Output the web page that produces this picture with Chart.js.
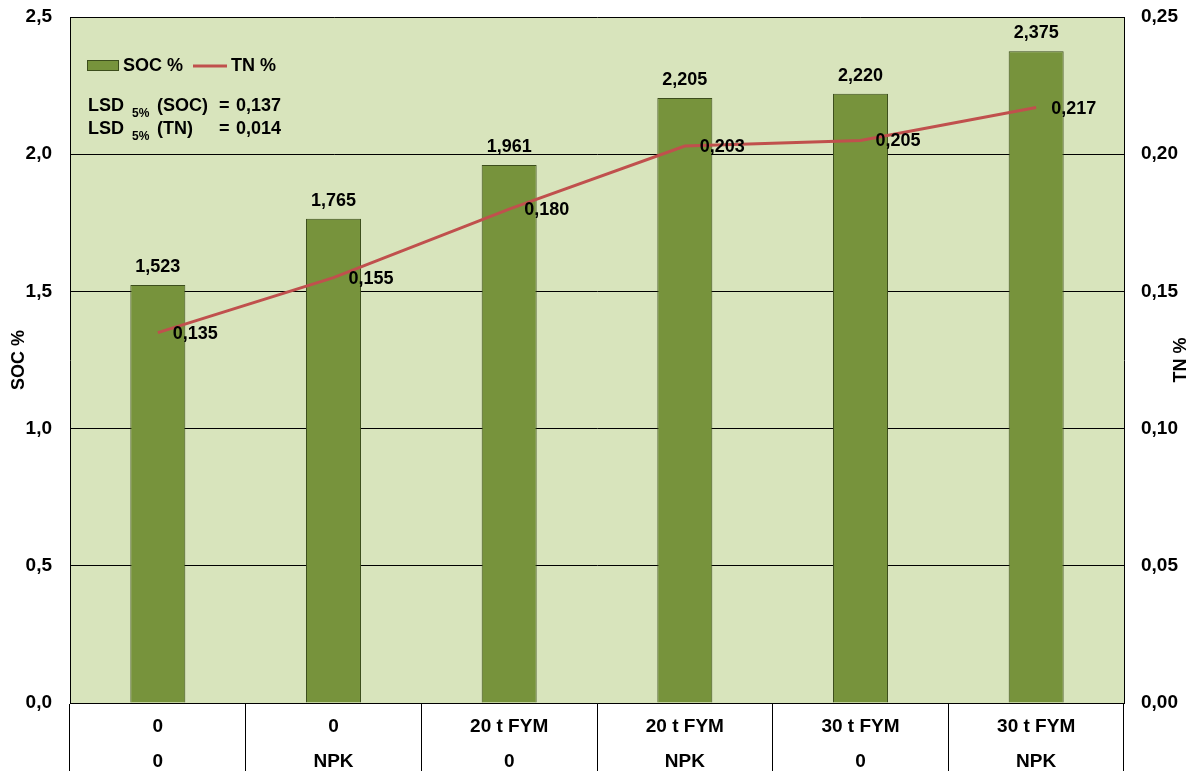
<!DOCTYPE html>
<html>
<head>
<meta charset="utf-8">
<script src="https://cdn.jsdelivr.net/npm/chart.js@4/dist/chart.umd.min.js"></script>
<style>
  body { margin: 0; background: #fff; }
</style>
</head>
<body>
<canvas id="socChart" width="1190" height="771"></canvas>
<script>
// data
var categories = [["0", "0"], ["0", "NPK"], ["20 t FYM", "0"], ["20 t FYM", "NPK"], ["30 t FYM", "0"], ["30 t FYM", "NPK"]];
var socValues = [1.523, 1.765, 1.961, 2.205, 2.220, 2.375];
var tnValues = [0.135, 0.155, 0.180, 0.203, 0.205, 0.217];
var socTicks = ["0,0", "0,5", "1,0", "1,5", "2,0", "2,5"];
var tnTicks = ["0,00", "0,05", "0,10", "0,15", "0,20", "0,25"];
var lsdNames = ["(SOC)", "(TN)"];
var lsdValues = ["0,137", "0,014"];

var FONT = "'Liberation Sans', Arial, sans-serif";
var comma = function (v, d) { return v.toFixed(d).replace('.', ','); };

// plot background + labels + legend
var extras = {
  id: 'extras',
  beforeDraw: function (chart) {
    var a = chart.chartArea, ctx = chart.ctx;
    ctx.save();
    ctx.fillStyle = '#d8e4bc';
    ctx.fillRect(a.left, a.top, a.right - a.left, a.bottom - a.top);
    ctx.restore();
  },
  afterDatasetsDraw: function (chart) {
    var ctx = chart.ctx;
    ctx.save();
    ctx.fillStyle = '#000';
    ctx.font = 'bold 18px ' + FONT;
    ctx.textBaseline = 'middle';
    ctx.textAlign = 'center';
    chart.getDatasetMeta(0).data.forEach(function (bar, i) {
      ctx.fillText(comma(socValues[i], 3), bar.x, bar.y - 18);
    });
    ctx.textAlign = 'left';
    chart.getDatasetMeta(1).data.forEach(function (pt, i) {
      ctx.fillText(comma(tnValues[i], 3), pt.x + 15, pt.y + 1);
    });
    ctx.restore();
  },
  afterDraw: function (chart) {
    var ctx = chart.ctx, a = chart.chartArea;
    var ds = chart.data.datasets;
    ctx.save();
    ctx.fillStyle = '#000';
    ctx.font = 'bold 18px ' + FONT;
    ctx.textBaseline = 'middle';
    ctx.textAlign = 'left';
    // legend
    ctx.fillStyle = ds[0].backgroundColor;
    ctx.strokeStyle = ds[0].borderColor;
    ctx.lineWidth = 1;
    ctx.fillRect(87.5, 60.5, 31, 10);
    ctx.strokeRect(87.5, 60.5, 31, 10);
    ctx.fillStyle = '#000';
    ctx.fillText(ds[0].label, 123, 66);
    ctx.strokeStyle = ds[1].borderColor;
    ctx.lineWidth = 3;
    ctx.beginPath();
    ctx.moveTo(193, 66);
    ctx.lineTo(227, 66);
    ctx.stroke();
    ctx.fillText(ds[1].label, 231, 66);
    // LSD notes
    ctx.textBaseline = 'alphabetic';
    [111, 134].forEach(function (y, i) {
      ctx.font = 'bold 18px ' + FONT;
      ctx.fillText('LSD', 88, y);
      ctx.fillText(lsdNames[i], 157, y);
      ctx.fillText('=', 219, y);
      ctx.fillText(lsdValues[i], 236, y);
      ctx.font = 'bold 12px ' + FONT;
      ctx.fillText('5%', 132, y + 6);
    });
    // right axis title (reads bottom to top)
    ctx.font = 'bold 18px ' + FONT;
    ctx.textAlign = 'center';
    ctx.textBaseline = 'middle';
    ctx.translate(1181, (a.top + a.bottom) / 2);
    ctx.rotate(-Math.PI / 2);
    ctx.fillText('TN %', 0, 0);
    ctx.restore();
  }
};

var ctx = document.getElementById('socChart').getContext('2d');
var chart = new Chart(ctx, {
  type: 'bar',
  data: {
    labels: categories,
    datasets: [{
      type: 'bar',
      label: 'SOC %',
      data: socValues,
      yAxisID: 'y',
      backgroundColor: '#77933c',
      borderColor: '#3c4d1c',
      borderWidth: 1,
      barPercentage: 0.313,
      categoryPercentage: 1,
      order: 2
    }, {
      type: 'line',
      label: 'TN %',
      data: tnValues,
      yAxisID: 'y2',
      borderColor: '#c0504d',
      borderWidth: 3,
      pointRadius: 0,
      tension: 0,
      order: 1
    }]
  },
  options: {
    responsive: false,
    animation: false,
    layout: { padding: { top: 17, left: 0, right: 0, bottom: 0 } },
    plugins: { legend: { display: false }, tooltip: { enabled: false } },
    scales: {
      x: {
        grid: { offset: true, drawOnChartArea: false, drawTicks: true, tickLength: 68, color: '#000', lineWidth: 1 },
        border: { display: true, color: '#000' },
        ticks: {
          color: '#000', font: { family: FONT, size: 19, weight: 'bold', lineHeight: '35px' },
          padding: -61.5, maxRotation: 0, autoSkip: false
        },
        afterFit: function (s) { s.height = 68; s.paddingLeft = 0; s.paddingRight = 0; }
      },
      y: {
        position: 'left',
        min: 0, max: 2.5,
        ticks: {
          stepSize: 0.5, color: '#000', padding: 18,
          font: { family: FONT, size: 19, weight: 'bold' },
          callback: function (v, i) { return socTicks[i]; }
        },
        grid: { color: '#000', lineWidth: 1, drawTicks: false },
        border: { display: true, color: '#000' },
        title: {
          display: true, text: 'SOC %', color: '#000',
          font: { family: FONT, size: 18, weight: 'bold' },
          padding: { top: 8, bottom: 0 }
        },
        afterFit: function (s) { s.width = 70; s.paddingTop = 0; s.paddingBottom = 0; }
      },
      y2: {
        position: 'right',
        min: 0, max: 0.25,
        ticks: {
          stepSize: 0.05, color: '#000', padding: 17,
          font: { family: FONT, size: 19, weight: 'bold' },
          callback: function (v, i) { return tnTicks[i]; }
        },
        grid: { drawOnChartArea: false, drawTicks: false },
        border: { display: true, color: '#000' },
        afterFit: function (s) { s.width = 66; s.paddingTop = 0; s.paddingBottom = 0; }
      }
    }
  },
  plugins: [extras]
});
</script>
</body>
</html>
